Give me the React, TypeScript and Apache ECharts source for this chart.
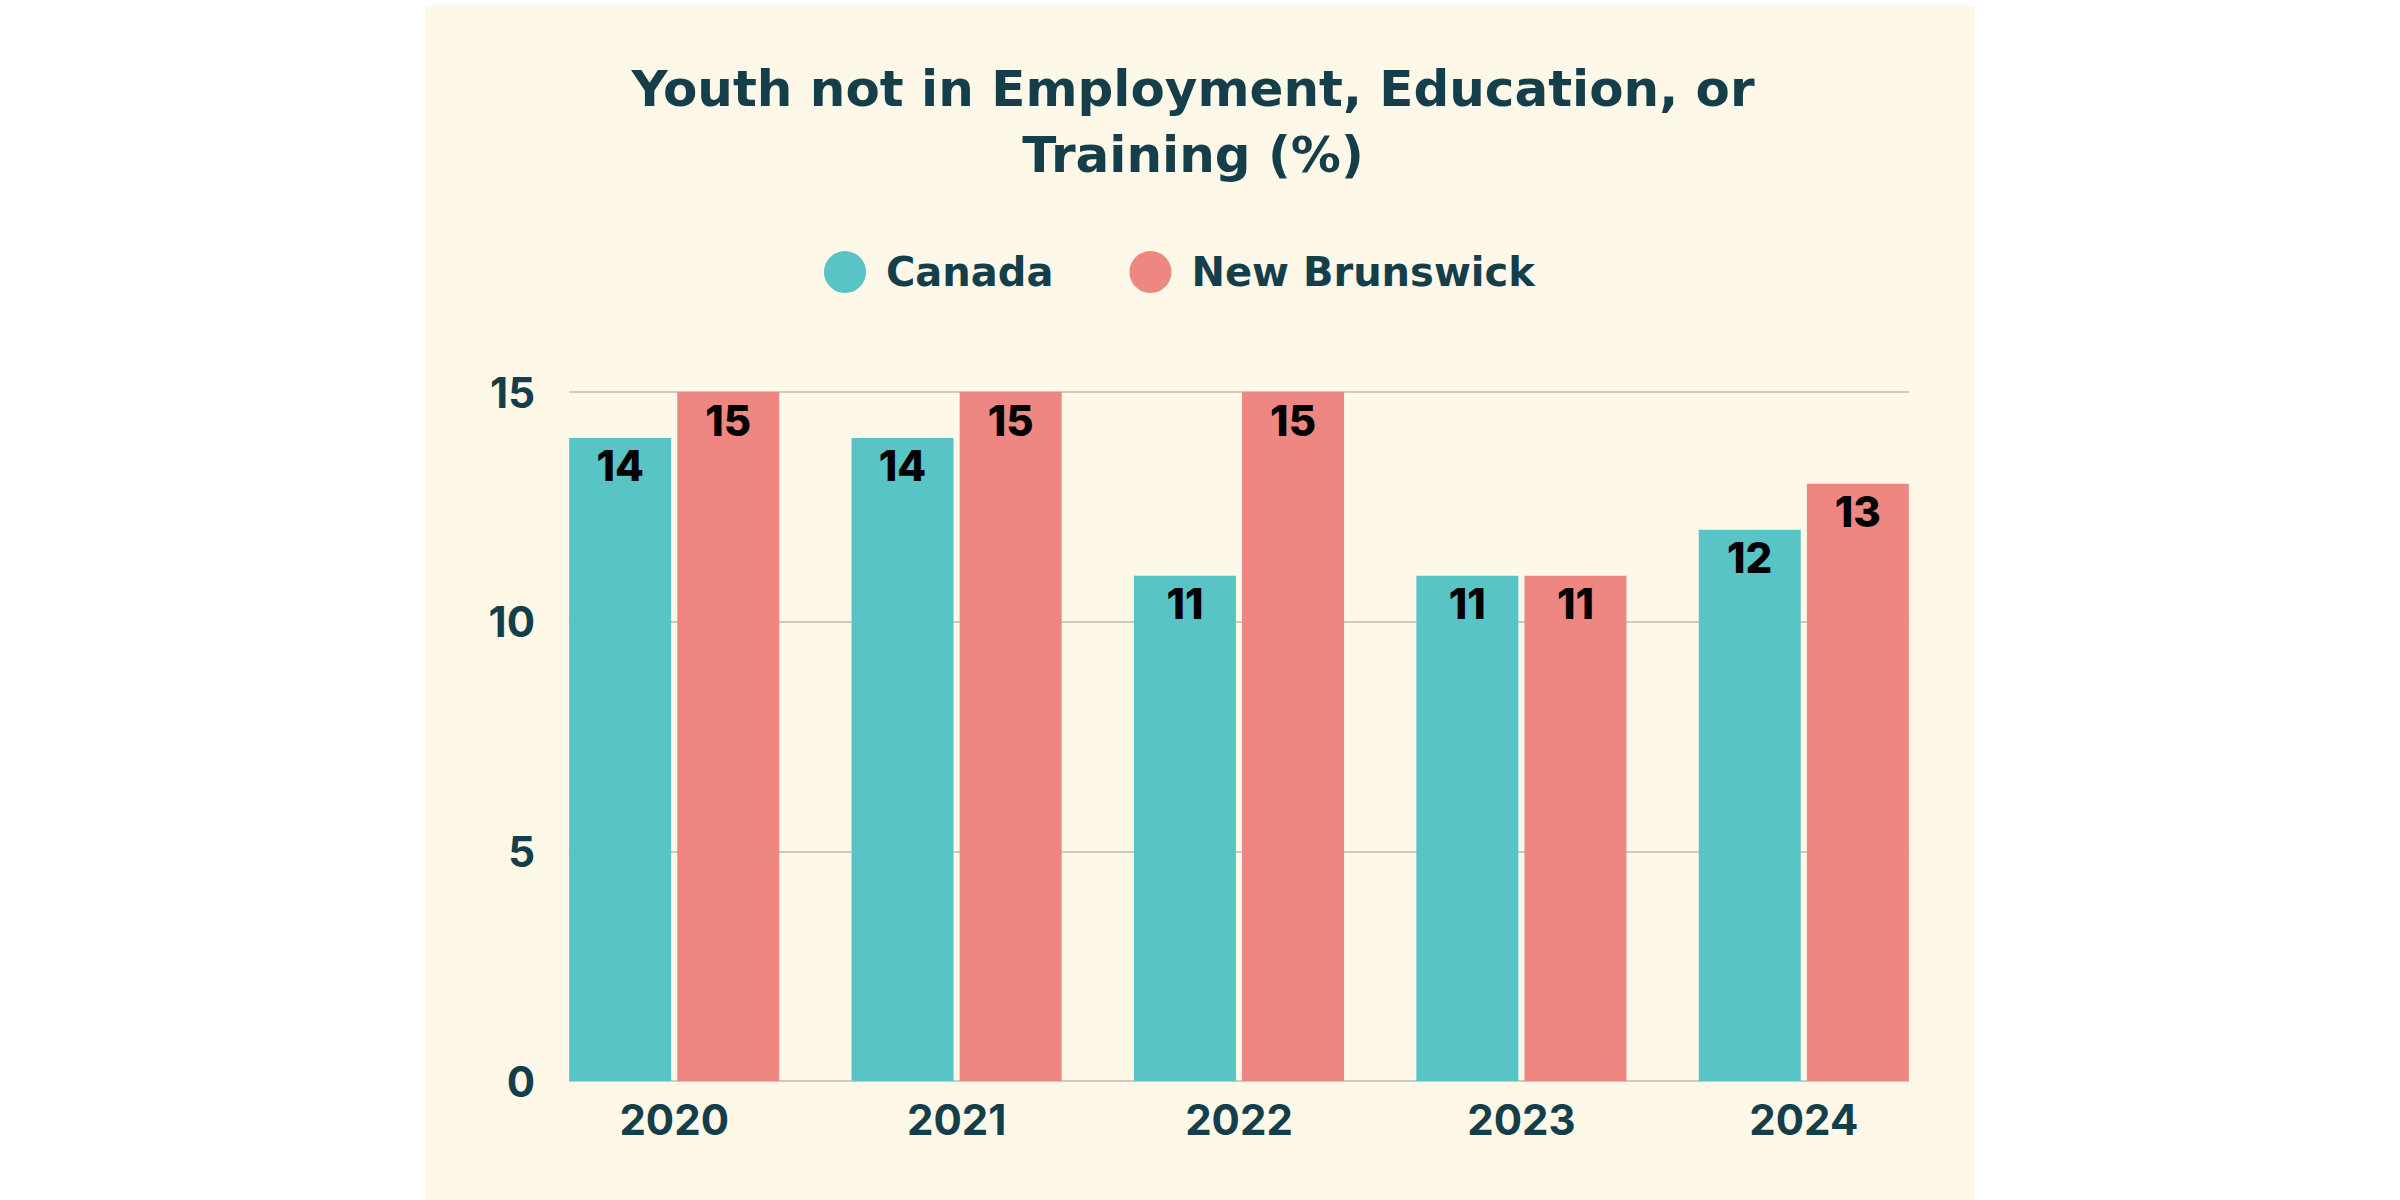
import React, { useEffect, useRef } from "react";
import * as echarts from "echarts";

const years = ["2020", "2021", "2022", "2023", "2024"];
const canada = [14, 14, 11, 11, 12];
const newBrunswick = [15, 15, 15, 11, 13];
const yTicks = { min: 0, max: 15, interval: 5 };
const titleText = "Youth not in Employment, Education, or\nTraining (%)";
const seriesNames = ["Canada", "New Brunswick"];

const TEAL_TEXT = "#153E4B";
const CANADA_COLOR = "#58C4C6";
const NB_COLOR = "#EE8782";
const CREAM = "#FEF8E9";
const NUM_FONT = "Inter";
const TEXT_FONT = "DejaVu Sans";

export default function App() {
  const ref = useRef<HTMLDivElement>(null);

  useEffect(() => {
    if (!ref.current) return;
    const chart = echarts.init(ref.current, undefined, { renderer: "svg" });
    const barLabel = {
      show: true,
      position: "insideTop",
      distance: 7,
      color: "#000",
      fontFamily: NUM_FONT,
      fontWeight: 800,
      fontSize: 42,
    };
    chart.setOption({
      animation: false,
      backgroundColor: "#ffffff",
      graphic: [
        {
          type: "rect",
          z: -100,
          silent: true,
          shape: { x: 425, y: 5, width: 1550, height: 1195 },
          style: { fill: CREAM },
        },
        {
          type: "text",
          z: 100,
          x: 1193,
          y: 56,
          style: {
            text: titleText,
            fill: TEAL_TEXT,
            font: `bold 50px "${TEXT_FONT}"`,
            fontFamily: TEXT_FONT,
            fontWeight: "bold",
            fontSize: 50,
            lineHeight: 66,
            textAlign: "center",
            textVerticalAlign: "top",
          },
        },
      ],
      legend: {
        data: seriesNames,
        left: 819,
        top: 246,
        icon: "circle",
        itemWidth: 42,
        itemHeight: 42,
        itemGap: 76,
        textStyle: {
          color: TEAL_TEXT,
          fontFamily: TEXT_FONT,
          fontWeight: "bold",
          fontSize: 40,
          padding: [0, 0, 0, 15],
        },
      },
      grid: [
        { left: 569, right: 491, top: 392, bottom: 119, containLabel: false },
        { left: 533, right: 455, top: 392, bottom: 119, containLabel: false },
      ],
      xAxis: [
        {
          type: "category",
          gridIndex: 0,
          data: years,
          show: true,
          axisLine: { show: false },
          axisTick: { show: false },
          axisLabel: { show: false },
        },
        {
          type: "category",
          gridIndex: 1,
          data: years,
          axisLine: { show: false },
          axisTick: { show: false },
          axisLabel: {
            margin: 17,
            color: TEAL_TEXT,
            fontFamily: NUM_FONT,
            fontWeight: "bold",
            fontSize: 42,
          },
        },
      ],
      yAxis: [
        {
          type: "value",
          gridIndex: 0,
          min: yTicks.min,
          max: yTicks.max,
          interval: yTicks.interval,
          axisLine: { show: false },
          axisTick: { show: false },
          splitLine: { show: true, lineStyle: { color: "#CBCBC5", width: 2 } },
          axisLabel: {
            margin: 34,
            color: TEAL_TEXT,
            fontFamily: NUM_FONT,
            fontWeight: "bold",
            fontSize: 42,
          },
        },
        {
          type: "value",
          gridIndex: 1,
          min: yTicks.min,
          max: yTicks.max,
          interval: yTicks.interval,
          show: false,
          splitLine: { show: false },
        },
      ],
      series: [
        {
          name: seriesNames[0],
          type: "bar",
          xAxisIndex: 1,
          yAxisIndex: 1,
          data: canada,
          barWidth: 102,
          barGap: "6%",
          itemStyle: { color: CANADA_COLOR },
          label: barLabel,
        },
        {
          name: seriesNames[1],
          type: "bar",
          xAxisIndex: 1,
          yAxisIndex: 1,
          data: newBrunswick,
          barWidth: 102,
          barGap: "6%",
          itemStyle: { color: NB_COLOR },
          label: barLabel,
        },
      ],
    });
    return () => chart.dispose();
  }, []);

  return (
    <div
      ref={ref}
      style={{ position: "absolute", left: 0, top: 0, width: 2400, height: 1200 }}
    />
  );
}
